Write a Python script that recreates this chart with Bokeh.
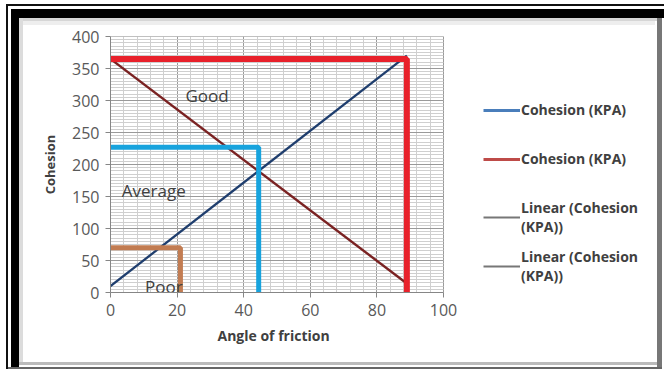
import numpy as np
from bokeh.plotting import figure
from bokeh.models import (Range1d, SingleIntervalTicker, Legend, LegendItem, BoxAnnotation, Title)
from bokeh.core.properties import value
from bokeh.embed import file_html
from bokeh.resources import INLINE

# ---- data ----
angle_ticks = [0, 20, 40, 60, 80, 100]
cohesion_ticks = [0, 50, 100, 150, 200, 250, 300, 350, 400]

good_angle = [0, 89, 89]          # red boundary
good_cohesion = [365, 365, 0]
avg_angle = [0, 44.5, 44.5]       # light blue boundary
avg_cohesion = [227, 227, 0]
poor_angle = [0, 21, 21]          # brown boundary
poor_cohesion = [70, 70, 0]

trend_up_angle = [0, 89]
trend_up_cohesion = [10, 370]
trend_down_angle = [0, 89]
trend_down_cohesion = [365, 14]

zone_names = ["Good", "Average", "Poor"]
zone_angle = [29, 13, 16]
zone_cohesion = [308, 159, 9]

legend_labels = ["Cohesion (KPA)", "Cohesion (KPA)",
                 "Linear (Cohesion\n(KPA))", "Linear (Cohesion\n(KPA))"]
x_title = "Angle of friction"
y_title = "Cohesion"

FONT = "Open Sans"
X_MAX, Y_MAX = angle_ticks[-1], cohesion_ticks[-1]
FL, FR_AXIS, FR, FB = 110, 443, 650, 292   # canvas px: frame left, x=100, frame right, bottom
x_end = X_MAX * (FR - FL) / (FR_AXIS - FL)

p = figure(width=664, height=370, x_range=Range1d(0, x_end), y_range=Range1d(0, Y_MAX + 0.01),
           output_backend="svg", toolbar_location=None,
           min_border_left=FL, min_border_right=664 - FR, min_border_top=36,
           min_border_bottom=370 - FB)
p.background_fill_alpha = 0
p.border_fill_alpha = 0
p.outline_line_color = None

# picture frame decoration drawn as CSS background layers behind the transparent canvas
def rect(color, x, y, w, h):
    return f"linear-gradient({color},{color}) {x}px {y}px / {w}px {h}px no-repeat"

layers = [
    rect("#111111", 6, 4, 658, 2),     # thin outer top line
    rect("#111111", 6, 4, 2, 365),     # thin outer left line
    rect("#000000", 11, 9, 653, 9),    # thick top band
    rect("#000000", 11, 9, 8, 358),    # thick left band
    rect("#777777", 657, 9, 5, 358),   # right edge
    rect("#666666", 6, 367, 656, 2),   # bottom edge
    rect("#BBBBBB", 19, 362, 638, 3),  # inner bottom line
    rect("#DCDCDC", 19, 18, 4, 344),   # inner left shade
    rect("#D6D6D6", 19, 18, 638, 3),   # inner top shade
    rect("#EEEEEE", 19, 21, 636, 4),
    "#FFFFFF",
]
p.styles = {"background": ", ".join(layers)}

# axes and grids limited to the chart's own range
xt = SingleIntervalTicker(interval=20, num_minor_ticks=5)
yt = SingleIntervalTicker(interval=50, num_minor_ticks=10)
p.xaxis.ticker = xt
p.yaxis.ticker = yt
p.xaxis.bounds = (0, X_MAX)
p.yaxis.bounds = (0, Y_MAX)
p.xgrid.ticker = xt
p.ygrid.ticker = yt
p.xgrid.bounds = (0, X_MAX)
p.ygrid.bounds = (0, Y_MAX)
g_y = p.ygrid[0]
has_cross = "cross_bounds" in g_y.properties()
if has_cross:
    g_y.cross_bounds = (0, X_MAX)
    p.xgrid[0].cross_bounds = (0, Y_MAX)
for g in (p.xgrid, p.ygrid):
    g.grid_line_color = "#9A9A9A"
    g.grid_line_width = 1
    g.minor_grid_line_color = "#CFCFCF"
    g.minor_grid_line_width = 1
if not has_cross:
    p.add_layout(BoxAnnotation(left=X_MAX + 0.2, fill_color="white", fill_alpha=1,
                               line_alpha=0, level="underlay"))

for ax in (p.xaxis, p.yaxis):
    ax.axis_line_color = "#868686"
    ax.major_tick_line_color = "#868686"
    ax.major_tick_out = 5
    ax.major_tick_in = 0
    ax.minor_tick_line_color = None
    ax.major_label_text_font = FONT
    ax.major_label_text_font_size = "16px"
    ax.major_label_text_color = "#595959"
    ax.major_label_standoff = 6
    ax.axis_label_text_font = FONT
    ax.axis_label_text_font_size = "13px"
    ax.axis_label_text_font_style = "bold"
    ax.axis_label_text_color = "#404040"

p.yaxis.axis_label = y_title
p.yaxis.axis_label_standoff = 10

# x-axis title, centred under the 0-100 axis (not the whole frame)
p.add_layout(Title(text=x_title, align="left", offset=107, standoff=10,
                   text_font=FONT, text_font_size="14px", text_font_style="bold",
                   text_color="#404040"), "below")

# trend lines
p.line(trend_up_angle, trend_up_cohesion, line_color="#1F3E6E", line_width=2.3)
p.line(trend_down_angle, trend_down_cohesion, line_color="#7A2222", line_width=2.4)

# zone boundaries
p.line(poor_angle, poor_cohesion, line_color="#C27C52", line_width=5)
p.line(avg_angle, avg_cohesion, line_color="#17A3DD", line_width=5, line_cap="round")
p.line(good_angle, good_cohesion, line_color="#E8212B", line_width=6, line_cap="round")

# zone labels
p.text(zone_angle, zone_cohesion, text=zone_names, text_font=value(FONT),
       text_font_size="17px", text_color="#404040", text_align="center",
       text_baseline="middle")

# legend renderers (series styles as shown in the legend; no visible points)
nan2 = [np.nan, np.nan]
leg_blue = p.line(nan2, nan2, line_color="#4A7EBB", line_width=3)
leg_red = p.line(nan2, nan2, line_color="#BE4B48", line_width=3)
leg_g1 = p.line(nan2, nan2, line_color="#777777", line_width=2)
leg_g2 = p.line(nan2, nan2, line_color="#777777", line_width=2)

def style_legend(lg):
    lg.background_fill_alpha = 0
    lg.border_line_alpha = 0
    lg.padding = 0
    lg.margin = 0
    lg.glyph_width = 37
    lg.glyph_height = 18
    lg.label_height = 18
    lg.label_standoff = 1
    lg.label_text_font = FONT
    lg.label_text_font_size = "14px"
    lg.label_text_font_style = "bold"
    lg.label_text_color = "#404040"
    lg.label_text_line_height = 1.28

lg1 = Legend(items=[LegendItem(label=legend_labels[0], renderers=[leg_blue]),
                    LegendItem(label=legend_labels[1], renderers=[leg_red])],
             location=(483 - FL, FB - 168), spacing=30)
style_legend(lg1)
lg2 = Legend(items=[LegendItem(label=legend_labels[2], renderers=[leg_g1]),
                    LegendItem(label=legend_labels[3], renderers=[leg_g2])],
             location=(483 - FL, FB - 285), spacing=11)
style_legend(lg2)
p.add_layout(lg1, "center")
p.add_layout(lg2, "center")

open("out.html", "w").write(file_html(p, INLINE))
